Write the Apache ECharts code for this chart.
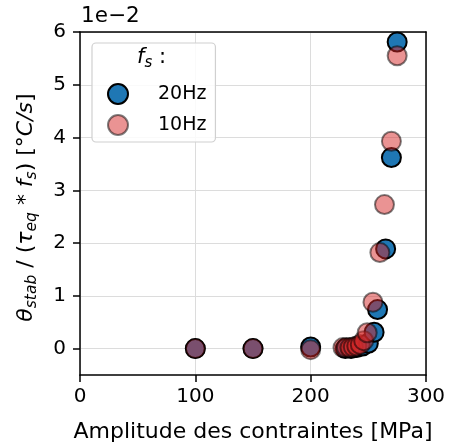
<!DOCTYPE html>
<html>
<head>
<meta charset="utf-8">
<script src="https://cdn.jsdelivr.net/npm/echarts@6/dist/echarts.min.js"></script>
<style>
html,body{margin:0;padding:0;background:#fff;}
#chart{width:449px;height:448px;}
</style>
</head>
<body>
<div id="chart"></div>
<script>
// Values in units of 1e-2 °C/s
const amp20 = [100, 150, 200, 230, 235, 240, 245, 250, 255, 258, 265, 270, 275];
const val20 = [0, 0, 0.03, 0, 0, 0.02, 0.05, 0.1, 0.31, 0.74, 1.89, 3.62, 5.81];
const amp10 = [100, 150, 200, 228, 231, 234, 237, 240, 243, 246, 249, 254, 260, 264, 270, 275];
const val10 = [0, 0, -0.02, 0.02, 0.02, 0.02, 0.03, 0.05, 0.08, 0.15, 0.3, 0.88, 1.82, 2.73, 3.93, 5.55];
const xTicks = [0, 100, 200, 300];
const yTicks = [0, 1, 2, 3, 4, 5, 6];
const seriesNames = ['20Hz', '10Hz'];

const FONT = 'DejaVu Sans';
const chart = echarts.init(document.getElementById('chart'), null, {renderer: 'canvas'});

const pair = (xs, ys) => xs.map((x, i) => [x, ys[i]]);

const gridLine = {show: true, lineStyle: {color: '#dcdcdc', width: 1}};

const option = {
  animation: false,
  backgroundColor: '#fff',
  grid: {left: 80, top: 32, right: 23, bottom: 71},
  xAxis: [{
    type: 'value', min: 0, max: 300, interval: 100,
    axisLine: {show: true, onZero: false, lineStyle: {color: '#000', width: 1.5}},
    axisTick: {show: true, length: 7, lineStyle: {color: '#000', width: 1.5}, customValues: xTicks},
    axisLabel: {color: '#000', fontFamily: FONT, fontSize: 20, margin: 12, customValues: xTicks},
    splitLine: gridLine,
    name: 'Amplitude des contraintes [MPa]', nameLocation: 'middle', nameGap: 46,
    nameTextStyle: {color: '#000', fontFamily: FONT, fontSize: 22}
  }, {
    type: 'value', min: 0, max: 300, position: 'top',
    axisLine: {show: true, onZero: false, lineStyle: {color: '#000', width: 1.5}},
    axisTick: {show: false}, axisLabel: {show: false}, splitLine: {show: false}
  }],
  yAxis: [{
    type: 'value', min: -0.5, max: 6,
    axisLine: {show: true, onZero: false, lineStyle: {color: '#000', width: 1.5}},
    axisTick: {show: true, length: 7, lineStyle: {color: '#000', width: 1.5}, customValues: yTicks},
    axisLabel: {color: '#000', fontFamily: FONT, fontSize: 20, margin: 14, customValues: yTicks},
    splitLine: gridLine,
    name: '{it|θ}{sub|stab}{n| / (}{it|τ}{sub|eq}{n| * }{it|f}{sub|s}{n|) [°}{it|C/s}{n|]}',
    nameLocation: 'middle', nameGap: 40, nameRotate: 90,
    nameTextStyle: {
      color: '#000', fontFamily: FONT, fontSize: 22, padding: [0, 8, 0, 0],
      rich: {
        n: {fontFamily: FONT, fontSize: 22, color: '#000', lineHeight: 28, verticalAlign: 'middle'},
        it: {fontFamily: FONT, fontStyle: 'italic', fontSize: 22, color: '#000', lineHeight: 28, verticalAlign: 'middle'},
        sub: {fontFamily: FONT, fontStyle: 'italic', fontSize: 15.5, color: '#000', lineHeight: 28, verticalAlign: 'bottom', padding: [9, 0, 0, 0]}
      }
    }
  }, {
    type: 'value', min: -0.5, max: 6, position: 'right',
    axisLine: {show: true, onZero: false, lineStyle: {color: '#000', width: 1.5}},
    axisTick: {show: false}, axisLabel: {show: false}, splitLine: {show: false}
  }],
  legend: {
    orient: 'vertical', left: 92, top: 43,
    padding: [40, 9, 6, 15],
    itemWidth: 20, itemHeight: 20, itemGap: 9,
    backgroundColor: 'rgba(255,255,255,0.85)',
    borderColor: '#d0d0d0', borderWidth: 1.2, borderRadius: 4,
    textStyle: {color: '#000', fontFamily: FONT, fontSize: 19, padding: [0, 0, 0, 25]},
    data: seriesNames
  },
  graphic: [{
    type: 'text', left: 81, top: 5, z: 100,
    style: {text: '1e\u22122', fontFamily: FONT, fontSize: 21.5, fill: '#000'}
  }, {
    type: 'text', left: 137, top: 47, z: 100,
    style: {
      text: '{it|f}{sub|s}{n| :}',
      rich: {
        n: {fontFamily: FONT, fontSize: 21, fill: '#000', lineHeight: 27, verticalAlign: 'middle'},
        it: {fontFamily: FONT, fontStyle: 'italic', fontSize: 21, fill: '#000', lineHeight: 27, verticalAlign: 'middle'},
        sub: {fontFamily: FONT, fontStyle: 'italic', fontSize: 15, fill: '#000', lineHeight: 27, verticalAlign: 'bottom', padding: [8, 0, 0, 0]}
      }
    }
  }],
  series: [{
    name: seriesNames[0], type: 'scatter', symbol: 'circle', symbolSize: 19,
    data: pair(amp20, val20), z: 3,
    itemStyle: {color: '#1f77b4', borderColor: '#000', borderWidth: 2, opacity: 1}
  }, {
    name: seriesNames[1], type: 'scatter', symbol: 'circle', symbolSize: 19,
    data: pair(amp10, val10), z: 4,
    itemStyle: {color: '#d62728', borderColor: '#000', borderWidth: 2, opacity: 0.5}
  }]
};
chart.setOption(option);
</script>
</body>
</html>
